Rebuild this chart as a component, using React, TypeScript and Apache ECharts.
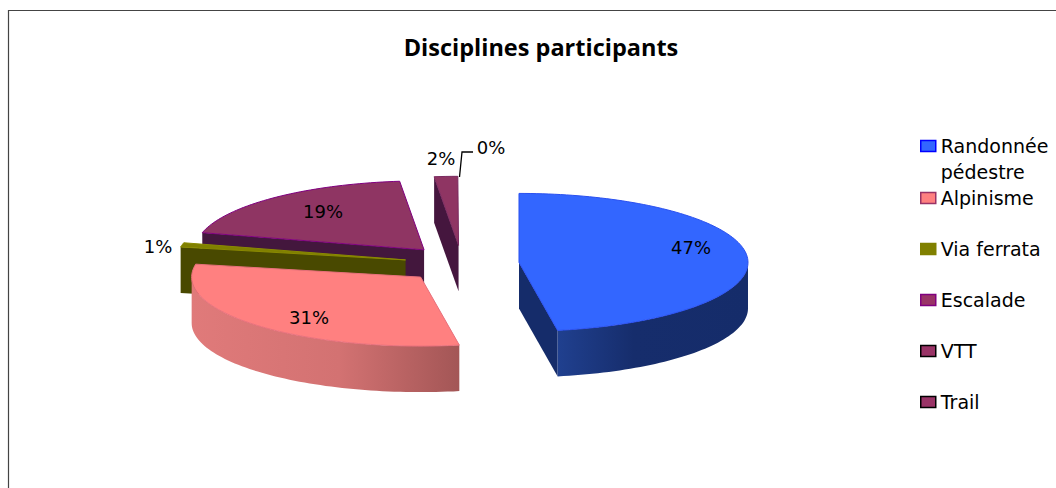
import React, { useEffect, useRef } from "react";
import * as echarts from "echarts";

const categories = ["Randonnée pédestre", "Alpinisme", "Via ferrata", "Escalade", "VTT", "Trail"];
const values = [47.3, 30.7, 1, 19.3, 1.65, 0.05];

const topColors = ["#3366ff", "#ff8080", "#808000", "#8f3563", "#8f3563", "#8f3563"];
const edgeColors = ["#2a50f0", "#e8707c", "#8a8a00", "#800080", "#7a2a60", "#7a2a60"];
const wallColors = ["#152c6a", "#b86060", "#494900", "#43173d", "#45163e", "#45163e"];
const swatchBorders = ["#0000ff", "#993366", "#808000", "#800080", "#000000", "#000000"];
const swatchFills = ["#3366ff", "#ff8080", "#808000", "#993366", "#993366", "#993366"];

const labelCenters: [number, number][] = [[691, 247], [309, 317], [158, 246], [323, 211], [441, 158], [491, 147]];
const legendRows = [146, 198, 249, 300, 351, 402];

const CX = 461.7, CY = 264, RX = 229, RY = 69, EXPLODE = 57.5, EXPLODE_Y = 18.7, DEPTH = 46;
const rad = (d: number) => (d * Math.PI) / 180;

const total = values.reduce((a, b) => a + b, 0);
const spans: [number, number][] = [];
let acc = 0;
values.forEach((v) => {
  spans.push([(acc / total) * 360, ((acc + v) / total) * 360]);
  acc += v;
});

function renderSlice(i: number) {
  const [a0, a1] = spans[i];
  const mid = rad((a0 + a1) / 2);
  const ax = CX + EXPLODE * Math.sin(mid);
  const ay = CY - EXPLODE_Y * Math.cos(mid);
  const rim = (deg: number, dy = 0): number[] => [ax + RX * Math.sin(rad(deg)), ay - RY * Math.cos(rad(deg)) + dy];
  const arc = (from: number, to: number, dy = 0) => {
    const out: number[][] = [];
    const n = Math.max(2, Math.ceil(Math.abs(to - from) / 1.5));
    for (let k = 0; k <= n; k++) out.push(rim(from + ((to - from) * k) / n, dy));
    return out;
  };
  const children: any[] = [];
  const wall = (deg: number) => ({
    type: "polygon",
    shape: { points: [[ax, ay], rim(deg), rim(deg, DEPTH), [ax, ay + DEPTH]] },
    style: { fill: wallColors[i] },
  });
  if (values[i] >= 0.1 && Math.sin(rad(a0)) < 0) children.push(wall(a0));
  if (values[i] >= 0.1 && Math.sin(rad(a1)) > 0) children.push(wall(a1));
  const f0 = Math.max(a0, 90), f1 = Math.min(a1, 270);
  if (f1 > f0) {
    const fill =
      i === 0
        ? new echarts.graphic.LinearGradient(0, 0, 1, 0, [
            { offset: 0, color: "#20408f" },
            { offset: 0.4, color: "#162d6c" },
            { offset: 1, color: "#152c6a" },
          ])
        : new echarts.graphic.LinearGradient(0, 0, 1, 0, [
            { offset: 0, color: "#e07a7a" },
            { offset: 0.55, color: "#d37272" },
            { offset: 1, color: "#a35656" },
          ]);
    children.push({
      type: "polygon",
      shape: { points: [...arc(f0, f1), ...arc(f1, f0, DEPTH)] },
      style: { fill },
    });
  }
  if (values[i] >= 0.1) {
    children.push({
      type: "polygon",
      shape: { points: [[ax, ay], ...arc(a0, a1)] },
      style: { fill: topColors[i], stroke: edgeColors[i], lineWidth: 1 },
    });
  } else {
    children.push({
      type: "polyline",
      shape: { points: [[459.5, 177], [462, 152], [473, 152]] },
      style: { fill: "none", stroke: "#000", lineWidth: 1.3 },
    });
  }
  return children;
}

function makeLabel(i: number) {
  const [lx, ly] = labelCenters[i];
  return {
    type: "text",
    style: {
      text: `${Math.round((values[i] / total) * 100)}%`,
      x: lx,
      y: ly,
      align: "center",
      verticalAlign: "middle",
      fill: "#000",
      font: '18px "DejaVu Sans"',
    },
  };
}

const paintRank = [5, 4, 3, 2, 1, 0];

export default function App() {
  const ref = useRef<HTMLDivElement>(null);
  useEffect(() => {
    const chart = echarts.init(ref.current!, undefined, { renderer: "svg" });
    chart.setOption({
      animation: false,
      backgroundColor: "#ffffff",
      title: {
        text: "Disciplines participants",
        left: 536,
        top: 30,
        textAlign: "center",
        textStyle: { fontFamily: "Open Sans", fontWeight: 700, fontSize: 23.5, color: "#000" },
      },
      legend: categories.map((name, i) => ({
        data: [name],
        orient: "vertical",
        left: 920,
        top: i === 0 ? legendRows[i] - 39 : legendRows[i] - 10,
        padding: 0,
        itemWidth: 15,
        itemHeight: 11,
        itemGap: 0,
        icon: "rect",
        selectedMode: false,
        itemStyle: { color: swatchFills[i], borderColor: swatchBorders[i], borderWidth: 1.5 },
        formatter: (n: string) => (i === 0 ? "\n" + n.replace(" ", "\n") : n),
        textStyle: {
          fontFamily: "DejaVu Sans",
          fontSize: 19,
          color: "#000",
          lineHeight: i === 0 ? 26 : 20,
        },
      })),
      graphic: [
        {
          type: "polyline",
          shape: { points: [[8.5, 488], [8.5, 10.5], [1056, 10.5]] },
          style: { fill: "none", stroke: "#444", lineWidth: 1.2 },
        },
      ],
      series: categories.map((name, i) => ({
        type: "custom",
        name,
        coordinateSystem: "none",
        z: 2 + paintRank[i],
        itemStyle: { color: swatchFills[i] },
        data: [values[i]],
        renderItem: () => ({ type: "group", children: [...renderSlice(i), makeLabel(i)] }),
      })),
    });
    return () => chart.dispose();
  }, []);
  return <div ref={ref} style={{ position: "absolute", left: 0, top: 0, width: 1056, height: 488 }} />;
}
